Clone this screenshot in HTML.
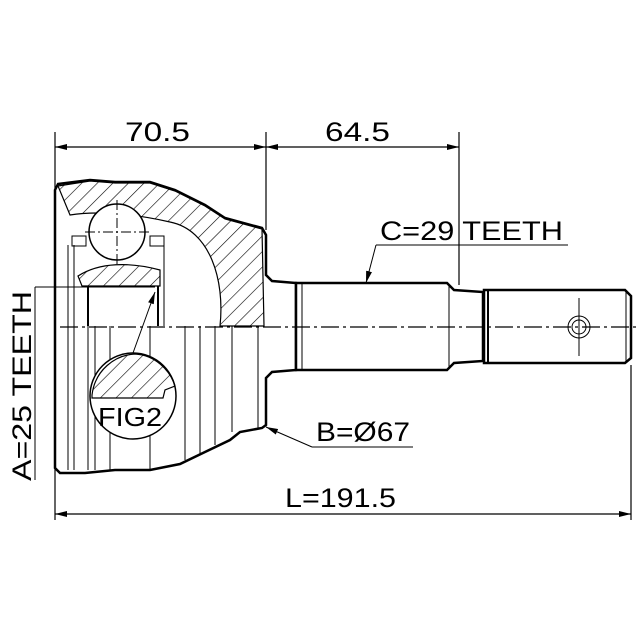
<!DOCTYPE html>
<html><head><meta charset="utf-8"><style>
html,body{margin:0;padding:0;background:#fff;}
svg{display:block;}
text{font-family:"Liberation Sans",Arial,sans-serif;fill:#000;}
</style></head><body>
<svg width="640" height="640" viewBox="0 0 640 640" xmlns="http://www.w3.org/2000/svg">
<defs>
<pattern id="h" patternUnits="userSpaceOnUse" width="11" height="11" patternTransform="rotate(45)">
<line x1="0" y1="0" x2="0" y2="11" stroke="#000" stroke-width="1.2"/>
</pattern>
<marker id="a" viewBox="0 0 12 6" refX="12" refY="3" markerWidth="12" markerHeight="6" orient="auto-start-reverse" markerUnits="userSpaceOnUse">
<path d="M0,0 L12,3 L0,6 Z" fill="#000"/>
</marker>
</defs>
<g stroke="#000" fill="none" stroke-width="1.2">
<line x1="55" y1="132" x2="55" y2="520"/>
<line x1="266" y1="132" x2="266" y2="230"/>
<line x1="459" y1="132" x2="459" y2="285"/>
<line x1="631" y1="365" x2="631" y2="520"/>
<line x1="55" y1="147" x2="266" y2="147" marker-start="url(#a)" marker-end="url(#a)"/>
<line x1="266" y1="147" x2="459" y2="147" marker-start="url(#a)" marker-end="url(#a)"/>
<line x1="55" y1="514" x2="631" y2="514" marker-start="url(#a)" marker-end="url(#a)"/>
</g>
<path d="M58,184 L90,180 L115,182 L150,182 L175,190 L205,205 L225,218 L262,228 L266,235 L266,275 L272,281 L296,283 L296,370 L272,372 L266,378 L266,425 L262,428 L240,432 L230,440 L205,452 L180,464 L150,470 L115,470 L85,473 L60,473 L55,468 L55,190 Z" fill="#fff" stroke="#000" stroke-width="2.5"/>
<path d="M58,186 L90,181 L115,183 L150,183 L175,191 L205,206 L225,219 L262,229 L264,326 L220,326 C225,280 210,230 170,222 C140,215 100,210 70,215 Z" fill="url(#h)" stroke="#000" stroke-width="1.2"/>
<path d="M78,276 C100,262 130,262 160,270 L160,286 L82,286 Z" fill="url(#h)" stroke="#000" stroke-width="1.2"/>
<circle cx="117" cy="232" r="28" fill="#fff" stroke="#000" stroke-width="1.5"/>
<g stroke="#000" stroke-width="1" fill="none">
<line x1="85" y1="232" x2="150" y2="232" stroke-dasharray="10,3,2,3"/>
<line x1="117" y1="200" x2="117" y2="265" stroke-dasharray="10,3,2,3"/>
<rect x="72" y="236" width="14" height="10"/>
<rect x="150" y="236" width="14" height="10"/>
<line x1="68" y1="245" x2="68" y2="470"/>
<line x1="74" y1="245" x2="74" y2="470"/>
<line x1="88" y1="286" x2="88" y2="326" stroke-width="2"/>
<line x1="158" y1="286" x2="158" y2="326" stroke-width="2"/>
<line x1="164" y1="245" x2="164" y2="326"/>
<line x1="88" y1="326" x2="88" y2="470"/><line x1="95" y1="326" x2="95" y2="470"/>
<line x1="110" y1="326" x2="110" y2="470"/><line x1="150" y1="326" x2="150" y2="470"/>
<line x1="185" y1="326" x2="185" y2="460"/><line x1="200" y1="326" x2="200" y2="455"/>
<line x1="215" y1="326" x2="215" y2="445"/><line x1="232" y1="326" x2="232" y2="432"/>
<line x1="258" y1="326" x2="258" y2="428"/>
<line x1="298" y1="283" x2="298" y2="370" stroke-width="2"/>
</g>
<g stroke="#000" fill="#fff" stroke-width="2.5">
<path d="M296,283 L447,283 L454,290 L483,292 L483,361 L454,363 L447,370 L296,370 Z"/>
<path d="M484,290 L625,290 L631,296 L631,358 L625,363 L484,363 Z"/>
</g>
<g stroke="#000" stroke-width="1" fill="none">
<line x1="302" y1="283" x2="302" y2="370"/>
<line x1="449" y1="285" x2="449" y2="368"/>
<line x1="488" y1="290" x2="488" y2="363" stroke-width="2"/>
<line x1="626" y1="292" x2="626" y2="361"/>
<circle cx="579" cy="327" r="11"/><circle cx="579" cy="327" r="7"/>
<line x1="579" y1="298" x2="579" y2="356"/>
<line x1="60" y1="327" x2="640" y2="327" stroke-dasharray="18,4,3,4" stroke-width="1.2"/>
</g>
<circle cx="133" cy="396" r="43" fill="#fff" stroke="#000" stroke-width="1.5"/>
<path d="M92,395 C95,370 115,355 135,354 C155,355 170,370 175,386 L165,390 L163,398 L92,398 Z" fill="url(#h)" stroke="#000" stroke-width="1.2"/>
<text x="98" y="426" font-size="26" textLength="64" lengthAdjust="spacingAndGlyphs">FIG2</text>
<line x1="133" y1="353" x2="155" y2="292" stroke="#000" stroke-width="1" marker-end="url(#a)"/>
<line x1="35" y1="287" x2="155" y2="287" stroke="#000" stroke-width="1"/>
<line x1="35" y1="287" x2="35" y2="480" stroke="#000" stroke-width="1"/>
<text transform="translate(31,481) rotate(-90)" font-size="27" textLength="190" lengthAdjust="spacingAndGlyphs">A=25 TEETH</text>
<text x="125" y="141" font-size="27" textLength="65" lengthAdjust="spacingAndGlyphs">70.5</text>
<text x="325" y="141" font-size="27" textLength="65" lengthAdjust="spacingAndGlyphs">64.5</text>
<text x="285" y="507" font-size="27" textLength="111" lengthAdjust="spacingAndGlyphs">L=191.5</text>
<text x="380" y="240" font-size="27" textLength="183" lengthAdjust="spacingAndGlyphs">C=29 TEETH</text>
<line x1="376" y1="245" x2="568" y2="245" stroke="#000" stroke-width="1"/>
<line x1="376" y1="245" x2="366" y2="283" stroke="#000" stroke-width="1" marker-end="url(#a)"/>
<text x="316" y="441" font-size="27" textLength="94" lengthAdjust="spacingAndGlyphs">B=Ø67</text>
<line x1="312" y1="447" x2="413" y2="447" stroke="#000" stroke-width="1"/>
<line x1="312" y1="447" x2="266" y2="427" stroke="#000" stroke-width="1" marker-end="url(#a)"/>
</svg>
</body></html>
